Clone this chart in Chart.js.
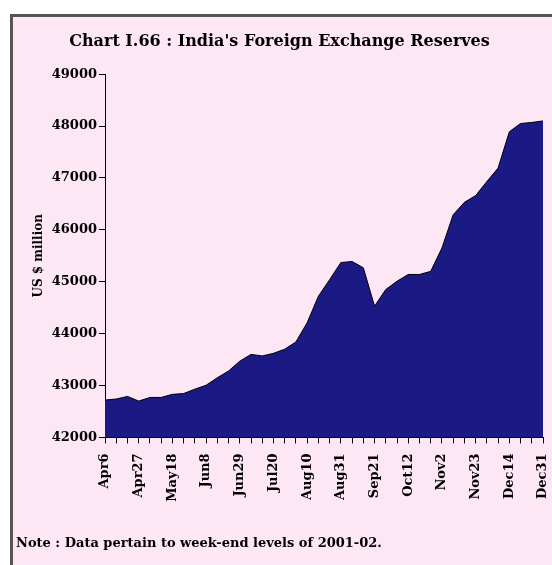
<!DOCTYPE html>
<html>
<head>
<meta charset="utf-8">
<script src="https://cdn.jsdelivr.net/npm/chart.js@4.4.0/dist/chart.umd.min.js"></script>
<style>
  body { margin: 0; background: #fff; }
</style>
</head>
<body>
<canvas id="myChart" width="552" height="565"></canvas>
<script>
// weekly dates (week-end levels, 2001-02)
var weeks = ["Apr6", "Apr13", "Apr20", "Apr27", "May4", "May11", "May18", "May25",
  "Jun1", "Jun8", "Jun15", "Jun22", "Jun29", "Jul6", "Jul13", "Jul20", "Jul27",
  "Aug3", "Aug10", "Aug17", "Aug24", "Aug31", "Sep7", "Sep14", "Sep21", "Sep28",
  "Oct5", "Oct12", "Oct19", "Oct26", "Nov2", "Nov9", "Nov16", "Nov23", "Nov30",
  "Dec7", "Dec14", "Dec21", "Dec28", "Dec31"];
// labels printed under the axis
var shownLabels = ["Apr6", "Apr27", "May18", "Jun8", "Jun29", "Jul20", "Aug10",
  "Aug31", "Sep21", "Oct12", "Nov2", "Nov23", "Dec14", "Dec31"];
// reserves, US $ million
var reserves = [42720, 42740, 42790, 42700, 42770, 42770, 42830, 42845,
  42930, 43005, 43150, 43280, 43470, 43600, 43570, 43620, 43700,
  43840, 44210, 44720, 45040, 45370, 45390, 45270, 44530, 44850,
  45010, 45140, 45140, 45200, 45650, 46290, 46530, 46660, 46930,
  47190, 47890, 48050, 48070, 48100];
var yTicks = [42000, 43000, 44000, 45000, 46000, 47000, 48000, 49000];

var labelFont = "DejaVu Serif";

// pink page with the dark frame on the left and top
var backdrop = {
  id: "backdrop",
  beforeDraw: function(chart) {
    var ctx = chart.ctx;
    ctx.save();
    ctx.fillStyle = "#ffffff";
    ctx.fillRect(0, 0, chart.width, chart.height);
    ctx.fillStyle = "#fde7f5";
    ctx.fillRect(10, 14, chart.width - 10, chart.height - 14);
    ctx.strokeStyle = "#555555";
    ctx.lineWidth = 3;
    ctx.beginPath();
    ctx.moveTo(11.5, chart.height);
    ctx.lineTo(11.5, 15.5);
    ctx.lineTo(chart.width, 15.5);
    ctx.stroke();
    ctx.restore();
  }
};

new Chart("myChart", {
  type: "line",
  data: {
    labels: weeks,
    datasets: [{
      data: reserves,
      fill: "start",
      backgroundColor: "#1b1a84",
      borderColor: "#000000",
      borderWidth: 1,
      pointRadius: 0,
      tension: 0
    }]
  },
  plugins: [backdrop],
  options: {
    responsive: false,
    animation: false,
    layout: { padding: { left: 16, right: 9, top: 0, bottom: 12 } },
    plugins: {
      legend: { display: false },
      tooltip: { enabled: false },
      title: {
        display: true,
        text: "Chart I.66 : India's Foreign Exchange Reserves",
        color: "#000",
        font: { family: labelFont, size: 16, weight: "bold" },
        padding: { top: 32, bottom: 23 }
      },
      subtitle: {
        display: true,
        position: "bottom",
        align: "start",
        text: "Note : Data pertain to week-end levels of 2001-02.",
        color: "#000",
        font: { family: labelFont, size: 13, weight: "bold" },
        padding: { top: 16, bottom: 2 }
      }
    },
    scales: {
      x: {
        offset: false,
        border: { color: "#000", width: 1 },
        grid: { drawOnChartArea: false, drawTicks: true, tickLength: 6, color: "#000" },
        afterFit: function(scale) {
          scale.height = 82;
          scale.paddingRight = 0;
        },
        ticks: {
          autoSkip: false,
          minRotation: 90,
          maxRotation: 90,
          padding: 10,
          color: "#000",
          font: { family: labelFont, size: 13, weight: "bold" },
          callback: function(value, index) {
            var lab = weeks[index];
            return shownLabels.indexOf(lab) >= 0 ? lab : "";
          }
        }
      },
      y: {
        min: yTicks[0],
        max: yTicks[yTicks.length - 1],
        border: { color: "#000", width: 1 },
        grid: { drawOnChartArea: false, drawTicks: true, tickLength: 6, color: "#000" },
        afterFit: function(scale) { scale.width = 89; },
        afterBuildTicks: function(scale) {
          scale.ticks = yTicks.map(function(v) { return { value: v }; });
        },
        title: {
          display: true,
          text: "US $ million",
          color: "#000",
          font: { family: labelFont, size: 12, weight: "bold" },
          padding: { top: 16, bottom: 0 }
        },
        ticks: {
          padding: 2,
          color: "#000",
          font: { family: labelFont, size: 13, weight: "bold" },
          callback: function(value) { return String(value); }
        }
      }
    }
  }
});
</script>
</body>
</html>
